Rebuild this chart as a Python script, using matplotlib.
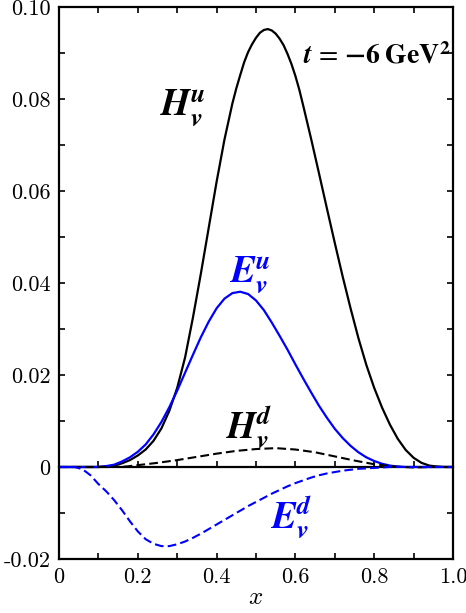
import numpy as np
import matplotlib
matplotlib.use("Agg")
import matplotlib.pyplot as plt
from matplotlib.ticker import MultipleLocator

plt.rcParams["font.family"] = "serif"
plt.rcParams["font.serif"] = ["cmr10", "DejaVu Serif"]
plt.rcParams["mathtext.fontset"] = "cm"
plt.rcParams["axes.unicode_minus"] = False

# valence GPDs at t = -6 GeV^2
x_hu = [0.0, 0.10, 0.12, 0.14, 0.16, 0.18, 0.20, 0.22, 0.24, 0.26, 0.28, 0.30,
        0.32, 0.34, 0.36, 0.38, 0.40, 0.42, 0.44, 0.45, 0.46, 0.47, 0.48,
        0.49, 0.50, 0.51, 0.52, 0.53, 0.54, 0.55, 0.56, 0.57, 0.58, 0.59,
        0.60, 0.61, 0.62, 0.64, 0.66, 0.68, 0.70, 0.72, 0.74, 0.76, 0.78,
        0.80, 0.82, 0.84, 0.86, 0.88, 0.90, 0.92, 0.94, 0.96, 0.98, 1.0]
hu = [0.0, 0.0, 0.0001, 0.0003, 0.0008, 0.0015, 0.0025, 0.0038, 0.0057,
      0.0084, 0.0122, 0.0172, 0.0238, 0.0325, 0.0420, 0.0520, 0.0620, 0.0712,
      0.0790, 0.0823, 0.0852, 0.0880, 0.0902, 0.0919, 0.0933, 0.0944, 0.0950,
      0.0952, 0.0949, 0.0942, 0.0931, 0.0917, 0.0898, 0.0876, 0.0850, 0.0820,
      0.0785, 0.0713, 0.0638, 0.0562, 0.0487, 0.0414, 0.0345, 0.0280, 0.0222,
      0.0172, 0.0129, 0.0092, 0.0061, 0.0037, 0.0020, 0.0009, 0.0003, 0.0001,
      0.0, 0.0]

x_eu = [0.0, 0.10, 0.12, 0.14, 0.16, 0.18, 0.20, 0.22, 0.24, 0.26, 0.28, 0.30,
        0.32, 0.34, 0.36, 0.38, 0.40, 0.42, 0.44, 0.46, 0.48, 0.50, 0.52,
        0.54, 0.56, 0.58, 0.60, 0.62, 0.64, 0.66, 0.68, 0.70, 0.72, 0.74,
        0.76, 0.78, 0.80, 0.82, 0.84, 0.86, 0.88, 1.0]
eu = [0.0, 0.0, 0.0002, 0.0005, 0.0012, 0.0021, 0.0033, 0.0049, 0.0071,
      0.0098, 0.0130, 0.0166, 0.0205, 0.0244, 0.0282, 0.0316, 0.0345, 0.0366,
      0.0378, 0.0381, 0.0376, 0.0362, 0.0341, 0.0314, 0.0285, 0.0255, 0.0223,
      0.0192, 0.0162, 0.0133, 0.0107, 0.0083, 0.0063, 0.0046, 0.0032, 0.0021,
      0.0013, 0.0007, 0.0003, 0.0001, 0.0, 0.0]

x_hd = [0.0, 0.12, 0.17, 0.20, 0.25, 0.30, 0.35, 0.40, 0.45, 0.50, 0.55, 0.60,
        0.65, 0.70, 0.75, 0.80, 0.85, 0.90, 0.95, 1.0]
hd = [0.0, 0.0, 0.0001, 0.0004, 0.0009, 0.0015, 0.0022, 0.0029, 0.0035,
      0.0039, 0.0041, 0.0038, 0.0032, 0.0023, 0.0014, 0.0006, 0.0001, -0.0001,
      0.0, 0.0]

x_ed = [0.0, 0.04, 0.06, 0.08, 0.10, 0.12, 0.14, 0.16, 0.18, 0.20, 0.22, 0.24,
        0.26, 0.28, 0.30, 0.32, 0.34, 0.36, 0.38, 0.40, 0.42, 0.44, 0.46,
        0.48, 0.50, 0.52, 0.54, 0.56, 0.58, 0.60, 0.62, 0.64, 0.66, 0.68,
        0.70, 0.72, 0.74, 0.76, 0.78, 0.80, 0.84, 1.0]
ed = [0.0, 0.0, -0.0005, -0.0018, -0.0037, -0.0053, -0.0072, -0.0094,
      -0.0118, -0.0140, -0.0157, -0.0167, -0.0172, -0.0172, -0.0168, -0.0162,
      -0.0154, -0.0145, -0.0135, -0.0125, -0.0115, -0.0105, -0.0095, -0.0085,
      -0.0076, -0.0067, -0.0058, -0.0050, -0.0042, -0.0035, -0.0029, -0.0023,
      -0.0018, -0.0014, -0.0011, -0.0008, -0.0006, -0.0004, -0.0003, -0.0002,
      0.0, 0.0]

x_ticks = [0.0, 0.2, 0.4, 0.6, 0.8, 1.0]
x_labels = ["0", "0.2", "0.4", "0.6", "0.8", "1.0"]
y_ticks = [-0.02, 0.0, 0.02, 0.04, 0.06, 0.08, 0.10]
y_labels = ["-0.02", "0", "0.02", "0.04", "0.06", "0.08", "0.10"]

fig = plt.figure(figsize=(4.66, 6.13), dpi=100)
ax = fig.add_axes([0.1266, 0.0881, 0.8455, 0.9005])

ax.plot(x_hu, hu, color="black", lw=1.6)
ax.plot(x_eu, eu, color="#0000ff", lw=1.6)
ax.plot(x_hd, hd, color="black", lw=1.5, dashes=(4.2, 2.0))
ax.plot(x_ed, ed, color="#0000ff", lw=1.5, dashes=(4.2, 2.0))

ax.set_xlim(0, 1)
ax.set_ylim(-0.02, 0.10)
ax.set_xticks(x_ticks, x_labels)
ax.set_yticks(y_ticks, y_labels)
ax.xaxis.set_minor_locator(MultipleLocator(0.1))
ax.yaxis.set_minor_locator(MultipleLocator(0.01))
ax.tick_params(which="both", direction="in", top=True, right=True,
               length=4, width=1.2, labelsize=16, pad=6)
for s in ax.spines.values():
    s.set_linewidth(1.6)

# zero line with inward ticks
zero = ax.secondary_xaxis(0.02 / 0.12)
zero.set_xticks(x_ticks)
zero.xaxis.set_minor_locator(MultipleLocator(0.1))
zero.tick_params(which="both", direction="in", length=4, width=1.2,
                 labelbottom=False)
zero.spines["bottom"].set_linewidth(1.6)

ax.set_xlabel("$x$", fontsize=18, labelpad=0)

lab = dict(fontsize=27, ha="center", va="center", math_fontfamily="stix")
ax.text(0.315, 0.078, r"$\mathbfit{H}_{\mathbfit{v}}^{\mathbfit{u}}$", **lab)
ax.text(0.485, 0.0417, r"$\mathbfit{E}_{\mathbfit{v}}^{\mathbfit{u}}$",
        color="#0000ff", **lab)
ax.text(0.482, 0.0087, r"$\mathbfit{H}_{\mathbfit{v}}^{\mathbfit{d}}$", **lab)
ax.text(0.589, -0.0109, r"$\mathbfit{E}_{\mathbfit{v}}^{\mathbfit{d}}$",
        color="#0000ff", **lab)
ax.text(0.995, 0.0893,
        r"$\mathbfit{t}\,=\,\mathbf{-6}\;\mathbf{GeV}^{\mathbf{2}}$",
        fontsize=20, ha="right", va="center", math_fontfamily="stix")

fig.savefig("out.png", dpi=100)
